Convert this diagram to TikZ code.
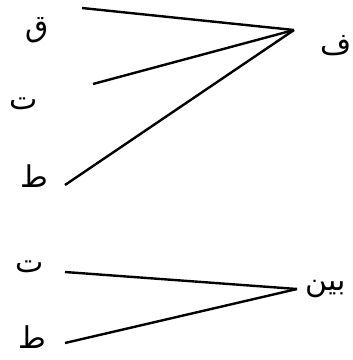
\documentclass[tikz,border=0pt]{standalone}
\usepackage{fontspec}
\newfontfamily\arabicfont[Script=Arabic]{DejaVu Sans}
\TeXXeTstate=1
\tikzset{lbl/.style={font=\arabicfont\fontsize{30}{34}\selectfont, inner sep=0pt},
  conn/.style={line width=2.4pt}}
\begin{document}
\begin{tikzpicture}[x=1pt,y=-1pt]
\useasboundingbox (0,0) rectangle (353,360);
\node[lbl] (q) at (37,30) {\beginR ق\endR};
\node[lbl] (t1) at (24,104) {\beginR ت\endR};
\node[lbl] (tt1) at (34,176) {\beginR ط\endR};
\node[lbl] (f) at (336,46) {\beginR ف\endR};
\node[lbl] (t2) at (30,267) {\beginR ت\endR};
\node[lbl] (tt2) at (32,337) {\beginR ط\endR};
\node[lbl] (bayn) at (326,289) {\beginR بين\endR};
\coordinate (hub1) at (294,30);
\coordinate (hub2) at (297,289);
\coordinate (q0) at (82,8);
\coordinate (t10) at (93,84);
\coordinate (tt10) at (65,185);
\coordinate (t20) at (65,272);
\coordinate (tt20) at (65,343);
\draw[conn] (q0) -- (hub1);
\draw[conn] (t10) -- (hub1);
\draw[conn] (tt10) -- (hub1);
\draw[conn] (t20) -- (hub2);
\draw[conn] (tt20) -- (hub2);
\end{tikzpicture}
\end{document}
